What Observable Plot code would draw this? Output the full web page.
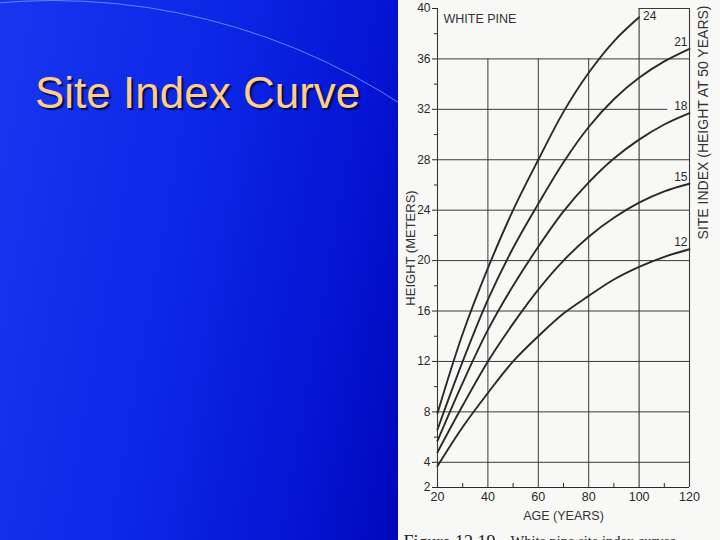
<!DOCTYPE html>
<html>
<head>
<meta charset="utf-8">
<script src="https://cdn.jsdelivr.net/npm/d3@7"></script>
<script src="https://cdn.jsdelivr.net/npm/@observablehq/plot@0.6"></script>
<style>
  html, body { margin: 0; padding: 0; width: 720px; height: 540px; overflow: hidden; }
  #slide { position: relative; width: 720px; height: 540px; overflow: hidden;
    background: linear-gradient(100deg, #1836f0 0%, #0c26e6 28%, #0414d2 48%, #0008bc 60%); }
  #arc { position: absolute; left: -584px; top: 0px; width: 1274px; height: 1274px;
    border-radius: 50%; border: 1.5px solid rgba(110, 150, 255, 0.85); box-sizing: border-box; }
  #panel { position: absolute; left: 398px; top: 0; width: 322px; height: 540px; background: #f8f8f6; }
  #title { position: absolute; left: 35px; top: 71px; margin: 0; font-family: "Liberation Sans", Arial, sans-serif;
    font-size: 44px; line-height: 43px; font-weight: normal; color: #ffcd8a; text-shadow: 2px 2px 1px #000a50; white-space: nowrap; }
  #chart { position: absolute; left: 0; top: 0; }
</style>
</head>
<body>
<div id="slide">
  <div id="arc"></div>
  <div id="panel"></div>
  <h1 id="title">Site Index Curve</h1>
  <div id="chart"></div>
</div>
<script>
// Ages (years) at which heights were read
const ages = [20, 30, 40, 50, 60, 70, 80, 90, 100, 110, 120];
// Heights (m) for each site index curve
const siteIndex = [24, 21, 18, 15, 12];
const h24 = [7.9, 14.2, 19.4, 24.0, 28.0, 31.8, 34.9, 37.4, 39.3];
const h21 = [6.6, 12.0, 16.9, 21.0, 24.5, 27.8, 30.6, 32.8, 34.5, 35.8, 36.8];
const h18 = [5.7, 10.3, 14.5, 18.0, 21.1, 23.9, 26.2, 28.1, 29.6, 30.8, 31.7];
const h15 = [4.8, 8.5, 12.0, 15.0, 17.7, 20.0, 21.9, 23.4, 24.6, 25.5, 26.1];
const h12 = [3.7, 6.8, 9.5, 12.0, 14.0, 15.8, 17.2, 18.5, 19.5, 20.3, 20.9];
// Axis ticks and grid
const yTickLabels = [2, 4, 8, 12, 16, 20, 24, 28, 32, 36, 40];
const yMinorTicks = [6, 10, 14, 18, 22, 26, 30, 34, 38];
const xTickLabels = [20, 40, 60, 80, 100, 120];
const xMinorTicks = [30, 50, 70, 90, 110];
const hGrid = [4, 8, 12, 16, 20, 24, 28, 32, 36];
const vGridInner = [40, 60, 80];
const vGridFull = [20, 100, 120];

const heights = [h24, h21, h18, h15, h12];
const rows = [];
siteIndex.forEach((si, i) => heights[i].forEach((h, j) => rows.push({si, age: ages[j], h})));
const ends = siteIndex.map((si, i) => ({si, age: ages[heights[i].length - 1], h: heights[i][heights[i].length - 1]}));

const ink = "#2a2a2a";
const paper = "#f8f8f6";
const serif = "'Liberation Serif', 'DejaVu Serif', serif";

const chart = Plot.plot({
  width: 720,
  height: 540,
  marginLeft: 437,
  marginRight: 31,
  marginTop: 8,
  marginBottom: 53,
  style: {background: "transparent", fontFamily: "'Liberation Sans', Arial, sans-serif", color: ink},
  x: {domain: [20, 120]},
  y: {domain: [2, 40]},
  marks: [
    Plot.ruleY(hGrid, {x1: 20, x2: 120, stroke: "#3a3a3a", strokeWidth: 1}),
    Plot.ruleY([40], {x1: 100, x2: 120, stroke: "#3a3a3a", strokeWidth: 1}),
    Plot.ruleY([2], {x1: 20, x2: 120, stroke: ink, strokeWidth: 1.2}),
    Plot.text(ends, {filter: d => d.si === 18, x: "age", y: "h", text: "si", textAnchor: "end", dx: -2, dy: -6,
      fontSize: 12, fill: paper, stroke: paper, strokeWidth: 16}),
    Plot.ruleX(vGridInner, {y1: 2, y2: 36, stroke: "#3a3a3a", strokeWidth: 1}),
    Plot.ruleX(vGridFull, {y1: 2, y2: 40, stroke: "#3a3a3a", strokeWidth: 1.1}),
    Plot.ruleX(xMinorTicks, {y1: 2, y2: 2.32, stroke: ink, strokeWidth: 1}),
    Plot.axisY(yTickLabels, {tickSize: 5, tickPadding: 2, fontSize: 12, label: null, stroke: ink}),
    Plot.axisY(yMinorTicks, {tickSize: 3, tickFormat: () => "", label: null, stroke: ink}),
    Plot.axisX(xTickLabels, {tickSize: 0, tickPadding: 5, fontSize: 12.5, label: null}),
    Plot.line(rows, {x: "age", y: "h", z: "si", stroke: ink, strokeWidth: 1.9, curve: "catmull-rom"}),
    Plot.text(ends, {filter: d => d.si !== 24, x: "age", y: "h", text: "si", textAnchor: "end", dx: -2, dy: -7,
      fontSize: 12, fill: ink}),
    Plot.text(ends, {filter: d => d.si === 24, x: "age", y: "h", text: "si", textAnchor: "start", dx: 4, dy: -1,
      fontSize: 12, fill: ink}),
    Plot.text(["WHITE PINE"], {frameAnchor: "top-left", dx: 6, dy: 10, textAnchor: "start", lineAnchor: "middle",
      fontSize: 12.5, fill: "#333"}),
    Plot.text(["HEIGHT (METERS)"], {frameAnchor: "left", dx: -27, rotate: -90, textAnchor: "middle", lineAnchor: "middle",
      fontSize: 13, fill: "#333"}),
    Plot.text(["SITE INDEX (HEIGHT AT 50 YEARS)"], {frameAnchor: "top-right", dx: 14, dy: -3, rotate: -90,
      textAnchor: "end", lineAnchor: "middle", fontSize: 14, fill: "#333"}),
    Plot.text(["AGE (YEARS)"], {frameAnchor: "bottom", dy: 28, textAnchor: "middle", lineAnchor: "middle",
      fontSize: 12.5, fill: "#333"}),
    Plot.text(["Figure 12.19"], {frameAnchor: "bottom-left", dx: -34, dy: 55, textAnchor: "start", lineAnchor: "middle",
      fontSize: 18, fontFamily: serif, fill: "#222"}),
    Plot.text(["White pine site index curves"], {frameAnchor: "bottom-left", dx: 73, dy: 54, textAnchor: "start",
      lineAnchor: "middle", fontSize: 14.5, fontFamily: serif, fill: "#222"})
  ]
});
document.getElementById("chart").appendChild(chart);
</script>
</body>
</html>
